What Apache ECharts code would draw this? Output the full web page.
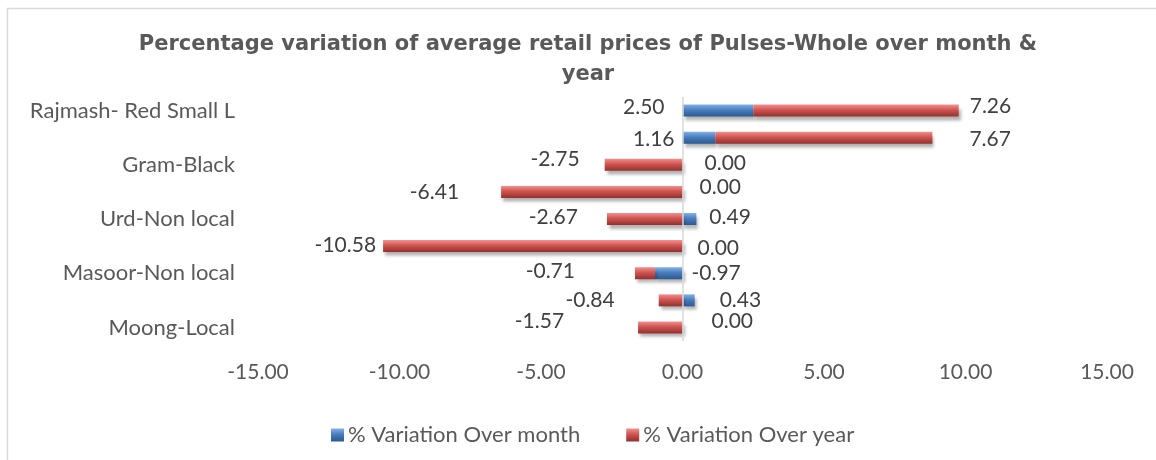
<!DOCTYPE html>
<html>
<head>
<meta charset="utf-8">
<script src="https://cdn.jsdelivr.net/npm/echarts@6/dist/echarts.min.js"></script>
<style>
  html, body { margin: 0; padding: 0; background: #fff; }
  #chart { width: 1156px; height: 460px; }
</style>
</head>
<body>
<div id="chart"></div>
<script>
// bottom to top, as the y axis draws them
var categories = ['Moong-Local', 'Moong-Non local', 'Masoor-Non local', 'Masoor-Local',
    'Urd-Non local', 'Urd-Local', 'Gram-Black', 'Gram-White', 'Rajmash- Red Small L'];
var monthVar = [0.00, 0.43, -0.97, 0.00, 0.49, 0.00, 0.00, 1.16, 2.50];
var yearVar = [-1.57, -0.84, -0.71, -10.58, -2.67, -6.41, -2.75, 7.67, 7.26];
var xTicks = [-15, -10, -5, 0, 5, 10, 15];
var seriesNames = ['% Variation Over month', '% Variation Over year'];

// where excel left each data label: [side, dx, dy]
var monthLabelPlace = [['right', 29, -6], ['right', 25, 0], ['right', 9, 0], ['right', 15, 2],
    ['right', 13, -2], ['right', 17, -5], ['right', 22, -2], ['left', -8, 2], ['left', -18, -3]];
var yearLabelPlace = [['left', -74, -6], ['left', -44, 0], ['left', -60, -2], ['left', -7, -1],
    ['left', -29, -2], ['left', -42, 0], ['left', -25, -6], ['right', 37, 2], ['right', 11, -4]];

var font = 'Lato, "Liberation Sans", sans-serif';

function grad(top, mid, bottom) {
    return new echarts.graphic.LinearGradient(0, 0, 0, 1, [
        { offset: 0, color: top }, { offset: 0.45, color: mid }, { offset: 1, color: bottom }
    ]);
}

function withLabels(values, place) {
    return values.map(function (v, i) {
        return {
            value: v,
            label: { position: place[i][0], offset: [place[i][1], place[i][2]] }
        };
    });
}

var barShadow = {
    shadowBlur: 3,
    shadowColor: 'rgba(0,0,0,0.3)',
    shadowOffsetX: 2,
    shadowOffsetY: 4
};

var labelStyle = {
    show: true,
    distance: 0,
    fontFamily: font,
    fontSize: 21,
    color: '#404040',
    formatter: function (p) { return p.value.toFixed(2); }
};

var myChart = echarts.init(document.getElementById('chart'));
var option = {
    animation: false,
    title: {
        text: 'Percentage variation of average retail prices of Pulses-Whole over month &\nyear',
        left: 583,
        top: 25,
        textAlign: 'center',
        textStyle: { fontFamily: '"DejaVu Sans", sans-serif', fontWeight: 'bold', fontSize: 21, lineHeight: 30, color: '#595959' }
    },
    graphic: [{
        type: 'rect',
        silent: true,
        shape: { x: 7.5, y: 8.5, width: 1200, height: 500 },
        style: { fill: null, stroke: '#d9d9d9', lineWidth: 1.5 }
    }],
    legend: {
        left: 326,
        top: 419,
        itemWidth: 13,
        itemHeight: 13,
        itemGap: 46,
        icon: 'rect',
        textStyle: { fontFamily: font, fontSize: 22, color: '#595959', padding: [0, 0, 0, -1] },
        data: seriesNames
    },
    grid: { left: 258, right: 49, top: 97, height: 244, containLabel: false },
    xAxis: {
        type: 'value',
        min: xTicks[0],
        max: xTicks[xTicks.length - 1],
        interval: xTicks[1] - xTicks[0],
        axisLine: { show: false },
        axisTick: { show: false },
        splitLine: { show: false },
        axisLabel: {
            margin: 21,
            fontFamily: font,
            fontSize: 21,
            color: '#595959',
            formatter: function (v) { return v.toFixed(2); }
        }
    },
    yAxis: {
        type: 'category',
        data: categories,
        axisLine: { show: false, onZero: false },
        axisTick: { show: false },
        splitLine: { show: false },
        axisLabel: {
            interval: 1,
            margin: 23,
            fontFamily: font,
            fontSize: 22,
            color: '#595959'
        }
    },
    series: [
        {
            name: seriesNames[0],
            type: 'bar',
            stack: 'var',
            barWidth: 12,
            data: withLabels(monthVar, monthLabelPlace),
            itemStyle: Object.assign({ color: grad('#84b2ea', '#4a7ebb', '#2b5892') }, barShadow),
            label: labelStyle,
            markLine: {
                silent: true,
                symbol: 'none',
                label: { show: false },
                lineStyle: { color: '#d9d9d9', width: 1.5, type: 'solid' },
                data: [{ xAxis: 0 }]
            }
        },
        {
            name: seriesNames[1],
            type: 'bar',
            stack: 'var',
            barWidth: 12,
            data: withLabels(yearVar, yearLabelPlace),
            itemStyle: Object.assign({ color: grad('#f4908e', '#cf5451', '#93302e') }, barShadow),
            label: labelStyle
        }
    ]
};
myChart.setOption(option);
</script>
</body>
</html>
